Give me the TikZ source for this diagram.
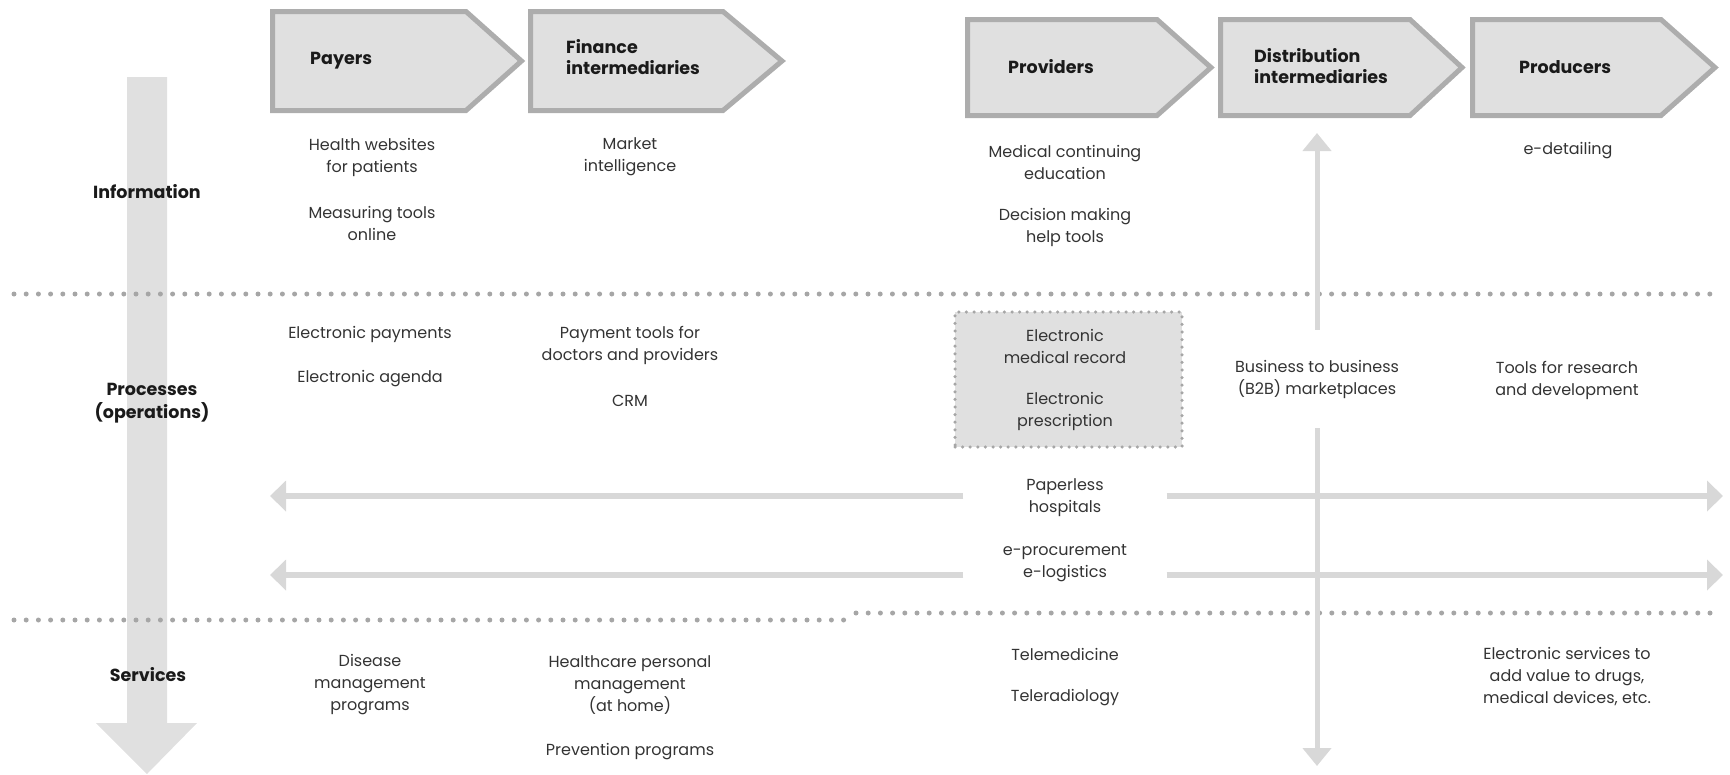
\documentclass[tikz,border=0pt]{standalone}
\usepackage{fontspec}
\setmainfont{Poppins}
\usetikzlibrary{arrows.meta,calc}
\definecolor{lightfill}{HTML}{E0E0E0}
\definecolor{chevedge}{HTML}{ADADAD}
\definecolor{dotgray}{HTML}{A6A6A6}
\definecolor{arrowgray}{HTML}{D8D8D8}
\definecolor{textgray}{HTML}{333333}
\definecolor{labelblack}{HTML}{1A1A1A}
\begin{document}
\begin{tikzpicture}[x=1pt,y=-1pt,
  chev/.style={fill=lightfill,draw=chevedge,line width=5pt,line join=miter},
  chevlabel/.style={anchor=west,font=\fontsize{17.5}{21}\selectfont\bfseries,align=left,text=labelblack,inner sep=0pt},
  rowlabel/.style={font=\fontsize{17.5}{23}\selectfont\bfseries,align=center,text=labelblack,inner sep=0pt},
  item/.style={font=\fontsize{16}{22}\selectfont,align=center,text=textgray,inner sep=0pt},
  sepline/.style={draw=dotgray,line width=5pt,line cap=round,dash pattern=on 0pt off 12.2pt},
  boxdots/.style={draw=dotgray,line width=3.5pt,line cap=round,dash pattern=on 0pt off 7.6pt},
  harrow/.style={draw=arrowgray,line width=6pt,-{Triangle[length=16pt,width=30pt]}},
  varrow/.style={draw=arrowgray,line width=5pt,-{Triangle[length=18pt,width=28pt]}},
]
\useasboundingbox (0,0) rectangle (1730,774);

% big downward arrow along the row labels
\fill[lightfill] (127,77) -- (167,77) -- (167,723) -- (197,723) -- (147,774)
  -- (96,723) -- (127,723) -- cycle;

% row separators
\draw[sepline] (14,294) -- (1721,294);
\draw[sepline] (14,620) -- (852,620);
\draw[sepline] (856,613) -- (1721,613);

% value chain chevrons
\draw[chev] (272.5,11.5) -- (466,11.5) -- (521.5,61) -- (466,110.5) -- (272.5,110.5) -- cycle;
\draw[chev] (530.5,11.5) -- (723,11.5) -- (782,61) -- (723,110.5) -- (530.5,110.5) -- cycle;
\draw[chev] (967.5,19.5) -- (1157,19.5) -- (1211,67.5) -- (1157,115.5) -- (967.5,115.5) -- cycle;
\draw[chev] (1220.5,19.5) -- (1410,19.5) -- (1462,67.5) -- (1410,115.5) -- (1220.5,115.5) -- cycle;
\draw[chev] (1472.5,19.5) -- (1661,19.5) -- (1715,67.5) -- (1661,115.5) -- (1472.5,115.5) -- cycle;
\node[chevlabel] (payers) at (310,61) {Payers};
\node[chevlabel] (finance) at (566,57) {Finance\\intermediaries};
\node[chevlabel] (providers) at (1008,67) {Providers};
\node[chevlabel] (distrib) at (1254,66) {Distribution\\intermediaries};
\node[chevlabel] (producers) at (1519,67) {Producers};

% row labels
\node[rowlabel] (information) at (147,192) {Information};
\node[rowlabel] (processes) at (152,403) {Processes\\(operations)};
\node[rowlabel] (services) at (148,675) {Services};

% information row
\node[item] (hw) at (372,157) {Health websites\\for patients};
\node[item] (mt) at (372,223) {Measuring tools\\online};
\node[item] (mi) at (630,157) {Market\\intelligence};
\node[item] (mce) at (1065,162) {Medical continuing\\education};
\node[item] (dm) at (1065,227) {Decision making\\help tools};
\node[item] (ed) at (1568,151) {e-detailing};

% processes row
\node[item] (ep) at (370,334) {Electronic payments};
\node[item] (ea) at (370,379) {Electronic agenda};
\node[item] (pt) at (630,345) {Payment tools for\\doctors and providers};
\node[item] (crm) at (630,401) {CRM};
\node[fill=lightfill,boxdots,minimum width=227pt,minimum height=135pt,inner sep=0pt] (emr) at (1068.5,379.5) {};
\node[item] (emrtxt) at (1065,346) {Electronic\\medical record};
\node[item] (epres) at (1065,411) {Electronic\\prescription};
\node[item,minimum height=98pt] (b2b) at (1317,379) {Business to business\\(B2B) marketplaces};
\node[item] (trd) at (1567,380) {Tools for research\\and development};
\node[item,minimum width=203pt] (pl) at (1065,498) {Paperless\\hospitals};
\node[item,minimum width=203pt] (epr) at (1065,563) {e-procurement\\e-logistics};

% arrow end points
\coordinate (plL) at (270,496);
\coordinate (plR) at (1723,496);
\coordinate (eprL) at (270,575);
\coordinate (eprR) at (1723,575);
\coordinate (distTip) at (1317,133);
\coordinate (bottomTip) at (1317,766);

\draw[harrow] ($(pl.west)+(0,-2)$) -- (plL);
\draw[harrow] ($(pl.east)+(0,-2)$) -- (plR);
\draw[harrow] ($(epr.west)+(0,12)$) -- (eprL);
\draw[harrow] ($(epr.east)+(0,12)$) -- (eprR);
\draw[varrow] (b2b.north) -- (distTip);
\draw[varrow] (b2b.south) -- (bottomTip);

% services row
\node[item] (dmp) at (370,685) {Disease\\management\\programs};
\node[item] (hpm) at (630,685) {Healthcare personal\\management\\(at home)};
\node[item] (pp) at (630,752) {Prevention programs};
\node[item] (tm) at (1065,654) {Telemedicine};
\node[item] (tr) at (1065,698) {Teleradiology};
\node[item] (es) at (1567,677) {Electronic services to\\add value to drugs,\\medical devices, etc.};
\end{tikzpicture}
\end{document}
